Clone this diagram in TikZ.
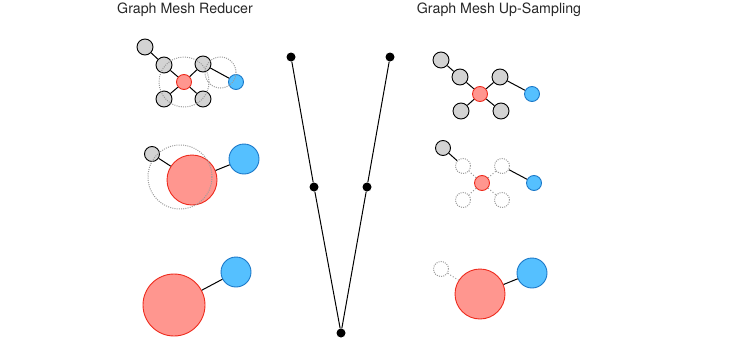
\documentclass[tikz,border=0pt]{standalone}
\usepackage{fontspec}
\setmainfont{TeX Gyre Heros}
\definecolor{redfill}{HTML}{FF968F}
\definecolor{redline}{HTML}{EE2A1C}
\definecolor{bluefill}{HTML}{55C0FF}
\definecolor{blueline}{HTML}{1B78C8}
\definecolor{grayfill}{HTML}{D3D3D3}
\definecolor{dotgray}{HTML}{9A9A9A}
\begin{document}
\begin{tikzpicture}[x=1pt,y=-1pt,
  ball/.style={circle,inner sep=0pt,line width=0.9pt},
  graynode/.style={ball,draw=black,fill=grayfill,minimum size=16pt},
  rednode/.style={ball,draw=redline,fill=redfill},
  bluenode/.style={ball,draw=blueline,fill=bluefill},
  ghost/.style={ball,draw=dotgray,dash pattern=on 1pt off 1.2pt,line width=1pt,minimum size=15pt},
  ring/.style={circle,inner sep=0pt,draw=dotgray,dash pattern=on 1pt off 1.2pt,line width=1pt},
  edge/.style={line width=1pt,black},
  dotedge/.style={line width=1pt,dotgray,dash pattern=on 1pt off 2pt},
  vdot/.style={circle,fill=black,inner sep=0pt,minimum size=9pt},
  vline/.style={line width=1pt,black},
  title/.style={font=\fontsize{14.2}{17}\selectfont,text=black!85}]
\useasboundingbox (0,0) rectangle (746,348);

% titles
\node[title] (t1) at (185,10) {Graph Mesh Reducer};
\node[title] (t2) at (499,10) {Graph Mesh Up-Sampling};

% ---- left top
\node[graynode] (a1) at (145,47) {};
\node[graynode] (a2) at (164,65) {};
\node[graynode] (a3) at (203,64) {};
\node[rednode,minimum size=15pt] (ar) at (184,82) {};
\node[bluenode,minimum size=15pt] (ab) at (236,82) {};
\node[graynode] (a4) at (164,99) {};
\node[graynode] (a5) at (203,99) {};
\draw[edge] (a1) -- (a2);
\draw[edge] (a2) -- (ar);
\draw[edge] (ar) -- (a3);
\draw[edge] (a3) -- (ab);
\draw[edge] (ar) -- (a4);
\draw[edge] (ar) -- (a5);
\node[ring,minimum size=50pt] (ring1) at (184,82) {};
\node[ring,minimum size=31pt] (ring2) at (220.5,72.5) {};

% ---- left middle
\node[graynode,minimum size=15pt] (b1) at (152,154) {};
\node[rednode,minimum size=50pt] (br) at (192,180) {};
\node[bluenode,minimum size=30pt] (bb) at (244,159) {};
\draw[edge] (b1) -- (br);
\draw[edge] (br) -- (bb);
\node[ring,minimum size=64pt] (ring3) at (180,177) {};

% ---- left bottom
\node[rednode,minimum size=62pt] (cr) at (174,305) {};
\node[bluenode,minimum size=30pt] (cb) at (236,272) {};
\draw[edge] (cr) -- (cb);

% ---- V shape
\node[vdot] (v1) at (291,57) {};
\node[vdot] (v2) at (314,187) {};
\node[vdot] (v3) at (341,333) {};
\node[vdot] (v4) at (367,187) {};
\node[vdot] (v5) at (390,57) {};
\draw[vline] (v1) -- (v2) -- (v3) -- (v4) -- (v5);

% ---- right top
\node[graynode] (d1) at (441,60) {};
\node[graynode] (d2) at (460,77) {};
\node[graynode] (d3) at (500,77) {};
\node[rednode,minimum size=15pt] (dr) at (480,94) {};
\node[bluenode,minimum size=15pt] (db) at (532,94) {};
\node[graynode] (d4) at (461,111) {};
\node[graynode] (d5) at (501,111) {};
\draw[edge] (d1) -- (d2);
\draw[edge] (d2) -- (dr);
\draw[edge] (dr) -- (d3);
\draw[edge] (d3) -- (db);
\draw[edge] (dr) -- (d4);
\draw[edge] (dr) -- (d5);

% ---- right middle
\node[graynode,minimum size=15pt] (e1) at (443,148) {};
\node[ghost] (e2) at (463,166) {};
\node[ghost] (e3) at (502,166) {};
\node[rednode,minimum size=15pt] (er) at (482,183) {};
\node[bluenode,minimum size=15pt] (eb) at (534,183) {};
\node[ghost] (e4) at (463,200) {};
\node[ghost] (e5) at (502,200) {};
\draw[edge] (e1) -- (e2);
\draw[edge] (e3) -- (eb);
\draw[dotedge] (er) -- (e2);
\draw[dotedge] (er) -- (e3);
\draw[dotedge] (er) -- (e4);
\draw[dotedge] (er) -- (e5);

% ---- right bottom
\node[ghost] (f1) at (441,269) {};
\node[rednode,minimum size=50pt] (fr) at (480,294) {};
\node[bluenode,minimum size=30pt] (fb) at (532,273) {};
\draw[edge] (fr) -- (fb);
\draw[dotedge] (f1) -- (fr);
\end{tikzpicture}
\end{document}
